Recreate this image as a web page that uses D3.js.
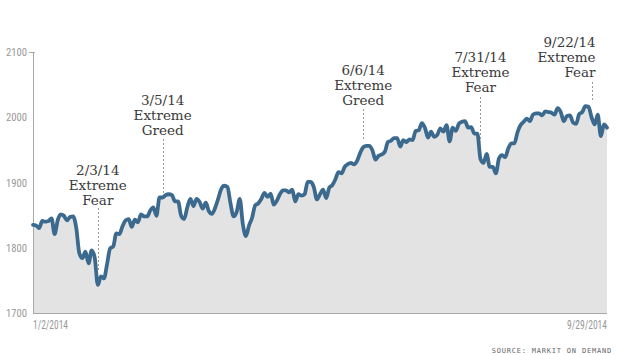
<!DOCTYPE html>
<html><head><meta charset="utf-8">
<script src="https://cdn.jsdelivr.net/npm/d3@7"></script>
<style>
html,body{margin:0;padding:0;background:#fff;}
svg{display:block;}
</style></head>
<body><svg id="c" width="620" height="355"></svg>
<script>
const dates = [
"2014-01-02","2014-01-03","2014-01-06","2014-01-07","2014-01-08","2014-01-09","2014-01-10","2014-01-13","2014-01-14","2014-01-15","2014-01-16","2014-01-17","2014-01-21","2014-01-22","2014-01-23","2014-01-24","2014-01-27","2014-01-28","2014-01-29","2014-01-30","2014-01-31",
"2014-02-03","2014-02-04","2014-02-05","2014-02-06","2014-02-07","2014-02-10","2014-02-11","2014-02-12","2014-02-13","2014-02-14","2014-02-18","2014-02-19","2014-02-20","2014-02-21","2014-02-24","2014-02-25","2014-02-26","2014-02-27","2014-02-28",
"2014-03-03","2014-03-04","2014-03-05","2014-03-06","2014-03-07","2014-03-10","2014-03-11","2014-03-12","2014-03-13","2014-03-14","2014-03-17","2014-03-18","2014-03-19","2014-03-20","2014-03-21","2014-03-24","2014-03-25","2014-03-26","2014-03-27","2014-03-28","2014-03-31",
"2014-04-01","2014-04-02","2014-04-03","2014-04-04","2014-04-07","2014-04-08","2014-04-09","2014-04-10","2014-04-11","2014-04-14","2014-04-15","2014-04-16","2014-04-17","2014-04-21","2014-04-22","2014-04-23","2014-04-24","2014-04-25","2014-04-28","2014-04-29","2014-04-30",
"2014-05-01","2014-05-02","2014-05-05","2014-05-06","2014-05-07","2014-05-08","2014-05-09","2014-05-12","2014-05-13","2014-05-14","2014-05-15","2014-05-16","2014-05-19","2014-05-20","2014-05-21","2014-05-22","2014-05-23","2014-05-27","2014-05-28","2014-05-29","2014-05-30",
"2014-06-02","2014-06-03","2014-06-04","2014-06-05","2014-06-06","2014-06-09","2014-06-10","2014-06-11","2014-06-12","2014-06-13","2014-06-16","2014-06-17","2014-06-18","2014-06-19","2014-06-20","2014-06-23","2014-06-24","2014-06-25","2014-06-26","2014-06-27","2014-06-30",
"2014-07-01","2014-07-02","2014-07-03","2014-07-07","2014-07-08","2014-07-09","2014-07-10","2014-07-11","2014-07-14","2014-07-15","2014-07-16","2014-07-17","2014-07-18","2014-07-21","2014-07-22","2014-07-23","2014-07-24","2014-07-25","2014-07-28","2014-07-29","2014-07-30","2014-07-31",
"2014-08-01","2014-08-04","2014-08-05","2014-08-06","2014-08-07","2014-08-08","2014-08-11","2014-08-12","2014-08-13","2014-08-14","2014-08-15","2014-08-18","2014-08-19","2014-08-20","2014-08-21","2014-08-22","2014-08-25","2014-08-26","2014-08-27","2014-08-28","2014-08-29",
"2014-09-02","2014-09-03","2014-09-04","2014-09-05","2014-09-08","2014-09-09","2014-09-10","2014-09-11","2014-09-12","2014-09-15","2014-09-16","2014-09-17","2014-09-18","2014-09-19","2014-09-22","2014-09-23","2014-09-24","2014-09-25","2014-09-26","2014-09-29"
];
const closes = [
1835,1834,1830,1841,1840,1841,1845,1821,1842,1851,1849,1842,1847,1848,1831,1792,1784,1794,1776,1796,1785,
1743,1756,1753,1775,1799,1802,1822,1821,1833,1842,1844,1832,1843,1839,1851,1848,1848,1857,1862,
1849,1877,1877,1881,1882,1881,1871,1871,1849,1844,1862,1875,1864,1875,1870,1860,1869,1856,1852,1861,1875,
1890,1895,1893,1868,1848,1855,1875,1836,1818,1834,1846,1865,1868,1875,1884,1878,1883,1866,1872,1882,1888,
1888,1885,1889,1871,1882,1880,1882,1901,1901,1893,1874,1882,1889,1876,1892,1896,1905,1916,1914,1924,1928,
1930,1928,1933,1945,1954,1956,1956,1949,1935,1941,1943,1947,1962,1964,1968,1968,1955,1965,1962,1966,1965,
1979,1980,1991,1984,1969,1978,1970,1973,1983,1978,1988,1963,1984,1979,1990,1993,1994,1984,1985,1975,1975,1936,
1930,1944,1924,1924,1914,1937,1942,1939,1952,1960,1960,1977,1988,1993,1998,1994,2004,2006,2006,2003,2009,
2008,2007,2004,2014,2008,1994,2002,2003,1992,1990,2005,2008,2017,2016,2000,1989,2004,1971,1989,1984
];
const yTicks = [1700, 1800, 1900, 2000, 2100];
const xLabels = ["1/2/2014", "9/29/2014"];
const annotations = [
  {date:"2014-02-03", lines:["2/3/14","Extreme","Fear"]},
  {date:"2014-03-05", lines:["3/5/14","Extreme","Greed"]},
  {date:"2014-06-06", lines:["6/6/14","Extreme","Greed"]},
  {date:"2014-07-31", lines:["7/31/14","Extreme","Fear"]},
  {date:"2014-09-22", lines:["9/22/14","Extreme","Fear"]}
];
const source = "SOURCE: MARKIT ON DEMAND";

// layout (not data)
const annLayout = [
  {top:175, anchor:"middle", dx:0, lineTop:208, gap:14},
  {top:105, anchor:"middle", dx:0, lineTop:139, gap:4},
  {top:75,  anchor:"middle", dx:0, lineTop:109, gap:8},
  {top:62,  anchor:"middle", dx:0, lineTop:97,  gap:16},
  {top:47,  anchor:"end",    dx:4, lineTop:82,  gap:16}
];

const svg = d3.select("#c");
const L = 33, R = 607, T = 52, B = 313;
const x = d3.scalePoint().domain(dates).range([L, R]);
const y = d3.scaleLinear().domain([1700, 2100]).range([B, T]);
const data = dates.map((d,i)=>({d, v:closes[i]}));

const area = d3.area().x(p=>x(p.d)).y0(B).y1(p=>y(p.v)).curve(d3.curveMonotoneX);
const line = d3.line().x(p=>x(p.d)).y(p=>y(p.v)).curve(d3.curveMonotoneX);

svg.append("path").datum(data).attr("d", area).attr("fill", "#e3e3e3");

const labelFont = "'Roboto Condensed','DejaVu Sans Condensed','Liberation Sans Narrow',Roboto,sans-serif";

// axes
const yAxis = d3.axisLeft(y).tickValues(yTicks).tickSize(0).tickPadding(6).tickFormat(d3.format("d"));
const gy = svg.append("g").attr("transform", `translate(${L},0)`).call(yAxis);
gy.select(".domain").attr("stroke", "#a8a8a8").attr("stroke-width", 1);
gy.selectAll("text").attr("fill", "#999").style("font-family", labelFont).style("font-size", "11.5px")
  .attr("textLength", 21).attr("lengthAdjust", "spacingAndGlyphs");
svg.append("line").attr("x1", L-4).attr("x2", L+2).attr("y1", y(2100)+0.5).attr("y2", y(2100)+0.5).attr("stroke", "#a8a8a8");

svg.append("line").attr("x1", L).attr("x2", R).attr("y1", B+0.5).attr("y2", B+0.5).attr("stroke", "#a8a8a8");

svg.append("path").datum(data).attr("d", line).attr("fill", "none")
  .attr("stroke", "#3c6a8f").attr("stroke-width", 3.8).attr("stroke-linejoin", "round").attr("stroke-linecap","round");

// x labels
svg.append("text").attr("x", L).attr("y", 329).text(xLabels[0])
  .attr("fill", "#999").style("font-family", labelFont).style("font-size", "12px")
  .attr("textLength", 35).attr("lengthAdjust", "spacingAndGlyphs");
svg.append("text").attr("x", R - 40).attr("y", 329).text(xLabels[1])
  .attr("fill", "#999").style("font-family", labelFont).style("font-size", "12px")
  .attr("textLength", 40).attr("lengthAdjust", "spacingAndGlyphs");

// annotations
annotations.forEach((a,i)=>{
  const lay = annLayout[i];
  const cx = x(a.date);
  const v = closes[dates.indexOf(a.date)];
  svg.append("line").attr("x1", Math.round(cx)+0.5).attr("x2", Math.round(cx)+0.5)
    .attr("y1", lay.lineTop).attr("y2", y(v) - lay.gap)
    .attr("stroke", "#999").attr("stroke-dasharray", "2,2").attr("stroke-width", 1);
  const t = svg.append("text").attr("text-anchor", lay.anchor)
    .attr("fill", "#3a3a3a").style("font-family", "'DejaVu Serif',serif").style("font-size", "13.5px");
  a.lines.forEach((s,j)=>{
    t.append("tspan").attr("x", cx + lay.dx).attr("y", lay.top + j*15).text(s);
  });
});

svg.append("text").attr("x", 612).attr("y", 353).attr("text-anchor", "end").text(source)
  .attr("fill", "#666").style("font-family", "'DejaVu Sans Mono',monospace").style("font-size", "7px").style("letter-spacing", "0.8px");
</script>
</body></html>
